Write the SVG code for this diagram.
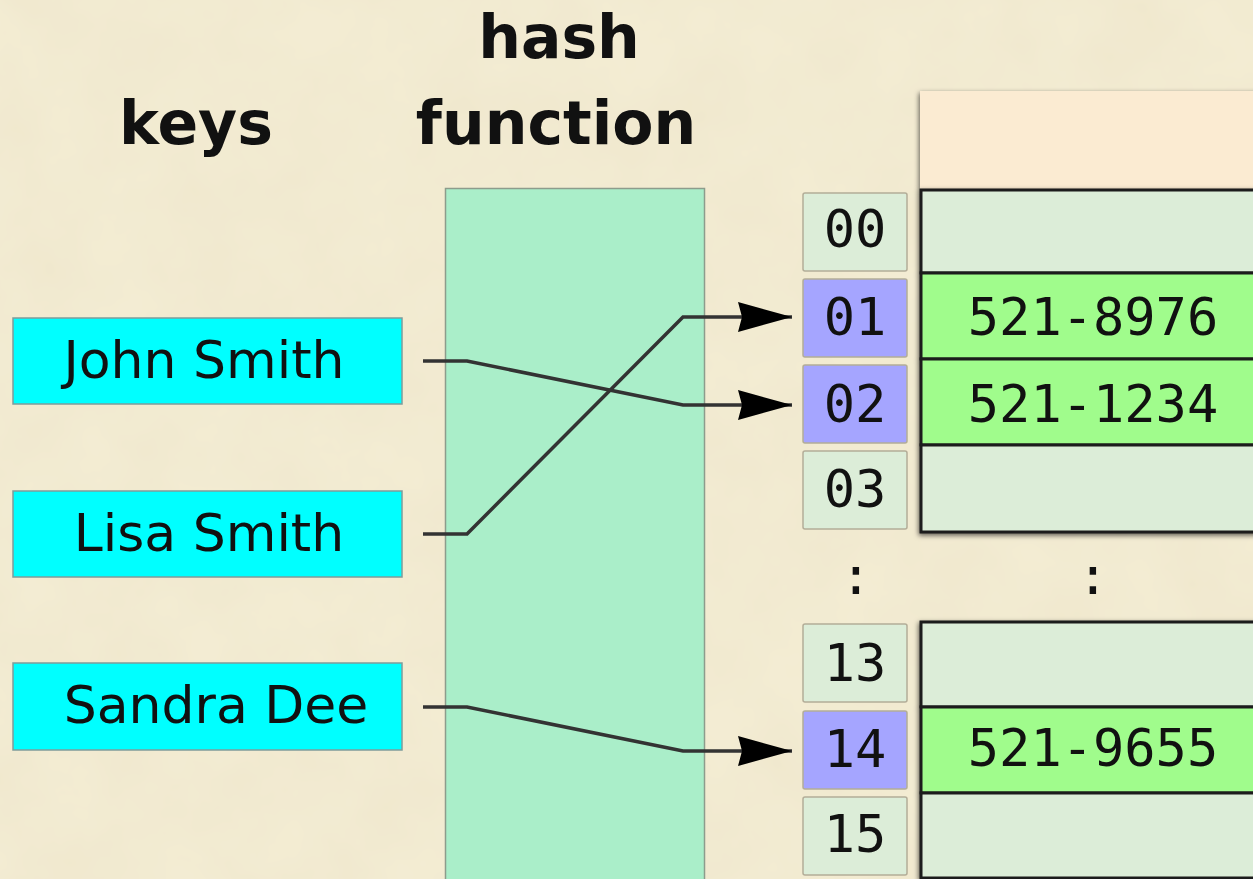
<svg xmlns="http://www.w3.org/2000/svg" width="1253" height="879" viewBox="0 0 1253 879">
<defs>
<filter id="paper" x="0" y="0" width="100%" height="100%">
<feTurbulence type="fractalNoise" baseFrequency="0.012" numOctaves="4" seed="7" result="n"/>
<feColorMatrix in="n" type="matrix" values="0 0 0 0 0.80  0 0 0 0 0.70  0 0 0 0 0.50  0 0 0 0.35 -0.08" result="c"/>
<feComposite in="c" in2="SourceGraphic" operator="over"/>
</filter>
<filter id="shadow" x="-5%" y="-20%" width="120%" height="150%">
<feDropShadow dx="-1" dy="2" stdDeviation="2.5" flood-color="#000" flood-opacity="0.6"/>
</filter>
<marker id="arrow" markerUnits="userSpaceOnUse" markerWidth="56" markerHeight="32" refX="54" refY="15" orient="auto">
<path d="M0,0 L54,15 L0,30 L4,15 z" fill="#000"/>
</marker>
<style>
.title{font-family:"DejaVu Sans","Liberation Sans",sans-serif;font-weight:bold;font-size:60px;fill:#111;text-anchor:middle}
.key rect{fill:#00ffff;stroke:#7f9c9a;stroke-width:1.5}
.key text{font-family:"DejaVu Sans","Liberation Sans",sans-serif;font-size:52px;fill:#111;text-anchor:middle}
.idx rect{stroke:#b3ad98;stroke-width:1.5}
.mono{font-family:"DejaVu Sans Mono","Liberation Mono",monospace;font-size:52px;fill:#111;text-anchor:middle}
.empty{fill:#dcedd8}
.used{fill:#a5a5ff}
.row{stroke:#1a1a1a;stroke-width:3}
.rowE{fill:#dcedd8}
.rowF{fill:#a0fc8c}
.conn{fill:none;stroke:#333;stroke-width:3.5;stroke-linejoin:miter}
</style>
</defs>
<rect x="0" y="0" width="1253" height="879" fill="#f3ecd3" filter="url(#paper)"/>

<text class="title" x="196" y="144">keys</text>
<text class="title" x="559" y="58">hash</text>
<text class="title" x="556" y="144">function</text>

<g id="hash-function"><rect x="445.5" y="188.5" width="259" height="700" fill="#aaeec9" stroke="#8d9c8c" stroke-width="1.5"/></g>

<g id="key-john" class="key"><rect x="13" y="318" width="389" height="86"/><text x="204" y="378">John Smith</text></g>
<g id="key-lisa" class="key"><rect x="13" y="491" width="389" height="86"/><text x="209" y="551">Lisa Smith</text></g>
<g id="key-sandra" class="key"><rect x="13" y="663" width="389" height="87"/><text x="216" y="723">Sandra Dee</text></g>

<g id="table-header"><rect x="920" y="91" width="360" height="98" fill="#fbebd2" filter="url(#shadow)"/></g>

<g id="buckets" filter="url(#shadow)">
<g id="row-00"><rect class="row rowE" x="921" y="190" width="360" height="83"/></g>
<g id="row-01"><rect class="row rowF" x="921" y="273" width="360" height="86"/></g>
<g id="row-02"><rect class="row rowF" x="921" y="359" width="360" height="86"/></g>
<g id="row-03"><rect class="row rowE" x="921" y="445" width="360" height="87"/></g>
<g id="row-13"><rect class="row rowE" x="921" y="622" width="360" height="85"/></g>
<g id="row-14"><rect class="row rowF" x="921" y="707" width="360" height="86"/></g>
<g id="row-15"><rect class="row rowE" x="921" y="793" width="360" height="85"/></g>
</g>
<text class="mono" x="1093" y="335">521-8976</text>
<text class="mono" x="1093" y="422">521-1234</text>
<text class="mono" x="1093" y="766">521-9655</text>
<text class="mono" x="1093" y="594">:</text>

<g id="idx-00" class="idx"><rect class="empty" x="803" y="193" width="104" height="78" rx="2"/><text class="mono" x="855" y="247">00</text></g>
<g id="idx-01" class="idx"><rect class="used" x="803" y="279" width="104" height="78" rx="2"/><text class="mono" x="855" y="335">01</text></g>
<g id="idx-02" class="idx"><rect class="used" x="803" y="365" width="104" height="78" rx="2"/><text class="mono" x="855" y="422">02</text></g>
<g id="idx-03" class="idx"><rect class="empty" x="803" y="451" width="104" height="78" rx="2"/><text class="mono" x="855" y="507">03</text></g>
<text class="mono" x="856" y="594">:</text>
<g id="idx-13" class="idx"><rect class="empty" x="803" y="624" width="104" height="78" rx="2"/><text class="mono" x="855" y="681">13</text></g>
<g id="idx-14" class="idx"><rect class="used" x="803" y="711" width="104" height="78" rx="2"/><text class="mono" x="855" y="767">14</text></g>
<g id="idx-15" class="idx"><rect class="empty" x="803" y="797" width="104" height="78" rx="2"/><text class="mono" x="855" y="852">15</text></g>

<g id="connectors">
<path class="conn" d="M423,361 L467,361 L683,405 L792,405" marker-end="url(#arrow)"/>
<path class="conn" d="M423,534 L467,534 L683,317 L792,317" marker-end="url(#arrow)"/>
<path class="conn" d="M423,707 L467,707 L683,751 L792,751" marker-end="url(#arrow)"/>
</g>
</svg>
